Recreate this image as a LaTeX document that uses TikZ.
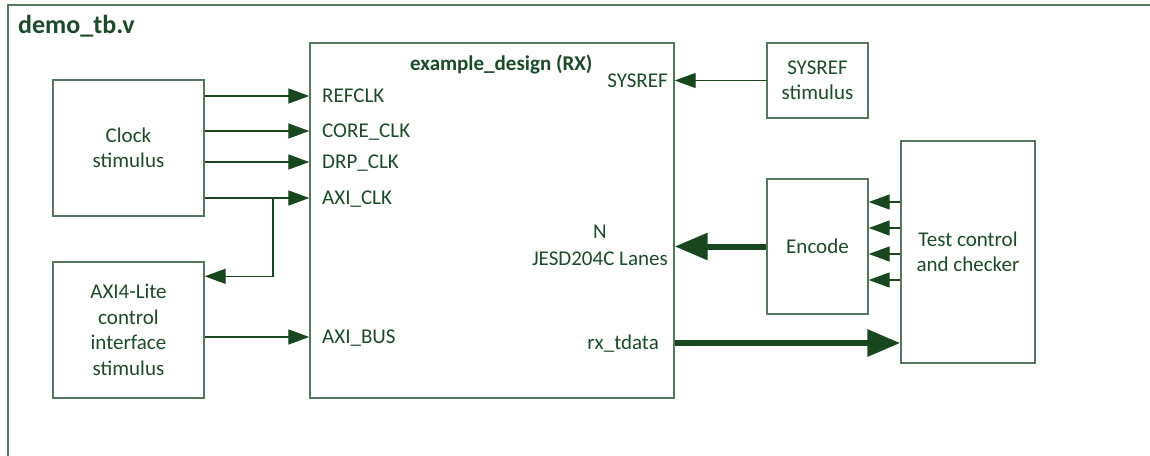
\documentclass[tikz,border=0pt]{standalone}
\usepackage{fontspec}
\setmainfont{Carlito}
\usetikzlibrary{arrows.meta,calc}
\definecolor{txt}{HTML}{1C4B29}
\definecolor{arrc}{HTML}{17461F}
\definecolor{boxc}{HTML}{55785C}
\tikzset{
  blk/.style={draw=boxc, line width=1.4pt, fill=white, align=center, text=txt, inner sep=0pt,
    font=\fontsize{21}{25.5}\selectfont},
  lbl/.style={text=txt, inner sep=0pt, text height=13pt, text depth=0pt,
    font=\fontsize{21}{25.5}\selectfont},
  arr/.style={draw=arrc, line width=1.3pt, -{Triangle[length=21pt,width=15pt]}},
  thickarr/.style={draw=arrc, line width=6pt, -{Triangle[length=33pt,width=26pt]}},
}
\begin{document}
\begin{tikzpicture}[x=1pt,y=-1pt]
\useasboundingbox (0,0) rectangle (1150,455);
\fill[white] (0,0) rectangle (1150,455);
% outer frame
\draw[boxc, line width=1.6pt] (1152,5) -- (8,5) -- (8,457);
\node[anchor=base west, text=txt, inner sep=0pt, font=\fontsize{26}{30}\selectfont\bfseries] (title) at (18,33) {demo\_tb.v};

% blocks
\node[blk, minimum width=151pt, minimum height=136pt] (clk) at (128.5,148) {Clock\\stimulus};
\node[blk, minimum width=151pt, minimum height=136pt] (axi) at (128.5,330) {AXI4-Lite\\control\\interface\\stimulus};
\node[blk, minimum width=364pt, minimum height=355pt] (ex) at (492,220.5) {};
\node[anchor=base west, text=txt, inner sep=0pt, font=\fontsize{21}{25.5}\selectfont\bfseries] (extitle) at (410,70) {example\_design (RX)};
\node[blk, minimum width=101pt, minimum height=75pt] (sys) at (817.5,80.5) {SYSREF\\stimulus};
\node[blk, minimum width=101pt, minimum height=135pt] (enc) at (817.5,246.5) {Encode};
\node[blk, minimum width=134pt, minimum height=222pt] (test) at (968,252) {Test control\\and checker};

% port labels
\node[lbl, anchor=west] (lref) at (322,96) {REFCLK};
\node[lbl, anchor=west] (lcore) at (322,131) {CORE\_CLK};
\node[lbl, anchor=west] (ldrp) at (322,162) {DRP\_CLK};
\node[lbl, anchor=west] (laxiclk) at (322,198) {AXI\_CLK};
\node[lbl, anchor=west] (laxibus) at (322,337) {AXI\_BUS};
\node[lbl, anchor=east] (lsys) at (668,80.5) {SYSREF};
\node[text=txt, inner sep=0pt, align=center, font=\fontsize{21}{27}\selectfont, anchor=east] (llanes) at (668,245) {N\\JESD204C Lanes};
\node[lbl, anchor=east] (lrx) at (659,343) {rx\_tdata};

% connectors
\draw[arr] (clk.east |- lref) -- (ex.west |- lref);
\draw[arr] (clk.east |- lcore) -- (ex.west |- lcore);
\draw[arr] (clk.east |- ldrp) -- (ex.west |- ldrp);
\draw[arr] (clk.east |- laxiclk) -- (ex.west |- laxiclk);
\coordinate (br) at (273,198);
\coordinate (axin) at ($(axi.north east)+(0,15)$);
\draw[arr] (br) |- (axin);
\draw[arr] (axi.east |- laxibus) -- (ex.west |- laxibus);
\draw[arr] (sys.west) -- (ex.east |- sys.west);
\draw[thickarr] (enc.west) -- (ex.east |- enc.west);
\draw[thickarr] (ex.east |- lrx) -- (test.west |- lrx);
\foreach \yy in {202,228,254,280}
  \draw[arr] (test.west |- 0,\yy) -- (enc.east |- 0,\yy);
\end{tikzpicture}
\end{document}
